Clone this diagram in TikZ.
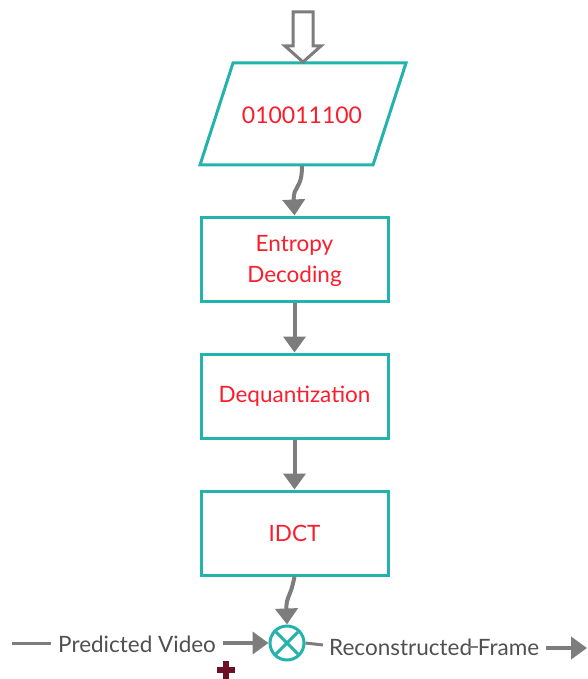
\documentclass[tikz,border=0pt]{standalone}
\usepackage{fontspec}
\setmainfont{Lato}
\usetikzlibrary{shapes.geometric,arrows.meta,calc}
\definecolor{teal}{RGB}{36,178,172}
\definecolor{txtred}{RGB}{250,30,45}
\definecolor{arrgray}{RGB}{125,125,125}
\definecolor{txtgray}{RGB}{80,80,80}
\definecolor{plusred}{RGB}{110,15,40}
\tikzset{
  x=1pt, y=-1pt,
  procbox/.style={draw=teal, line width=3pt, minimum width=187pt, minimum height=84pt,
    align=center, text=txtred, font=\fontsize{22.5}{31}\selectfont, inner sep=0pt},
  flow/.style={draw=arrgray, line width=4pt, -{Triangle[length=16pt,width=22pt]}},
  plainline/.style={draw=arrgray, line width=3pt},
  label/.style={text=txtgray, font=\fontsize{22.5}{27}\selectfont, inner sep=0pt, anchor=west}
}
\begin{document}
\begin{tikzpicture}
\useasboundingbox (0,0) rectangle (587,679);

% input data, drawn as a parallelogram
\coordinate (pa) at (233,63);
\coordinate (pb) at (406,63);
\coordinate (pc) at (373,165);
\coordinate (pd) at (200,165);
\draw[teal, line width=3pt, line join=miter] (pa) -- (pb) -- (pc) -- (pd) -- cycle;
\node[text=txtred, font=\fontsize{23}{27}\selectfont] (bits) at (302,115) {010011100};
\coordinate (pbot) at (302,166);

% hollow input arrow
\draw[arrgray, line width=3pt, line join=miter, fill=white]
  (293,12) -- (313,12) -- (313,46) -- (321,46) -- (303,62) -- (285,46) -- (293,46) -- cycle;

% processing stages
\node[procbox] (ent) at (294.5,259) {};
\node[text=txtred, font=\fontsize{22.5}{31}\selectfont, align=center, inner sep=0pt]
  (enttext) at (294.5,261) {Entropy\\Decoding};
\node[procbox] (deq) at (294.5,396) {Dequantization};
\node[procbox] (idct) at (294.5,533) {IDCT};

% summing junction
\node[circle, draw=teal, line width=3pt, minimum size=34pt, inner sep=0pt] (sum) at (287,643) {};
\draw[teal, line width=3pt] ($(sum.center)+(-11,-11)$) -- ($(sum.center)+(11,11)$);
\draw[teal, line width=3pt] ($(sum.center)+(-11,11)$) -- ($(sum.center)+(11,-11)$);

% connectors between stages
\draw[flow] (pbot) .. controls (302,190) and (293,185) .. (ent.north);
\draw[flow] (ent.south) -- (deq.north);
\draw[flow] (deq.south) -- (idct.north);
\draw[flow] (idct.south) .. controls (290,600) and (286,595) .. (sum.north);

% predicted input
\coordinate (lstart) at (12,643);
\coordinate (lend) at (51,643);
\draw[plainline] (lstart) -- (lend);
\node[label] (pred) at (58,644) {Predicted Video};
\coordinate (pstart) at (223,643);
\draw[flow] (pstart) -- (sum.west);

% reconstructed output
\coordinate (rend) at (323,645);
\draw[plainline] (sum.east) -- (rend);
\node[label] (recon) at (329,647) {Reconstructed Frame};
\coordinate (tick1) at (469,647);
\coordinate (tick2) at (478,647);
\draw[arrgray, line width=2pt] (tick1) -- (tick2);
\coordinate (ostart) at (546,648);
\coordinate (oend) at (587,648);
\draw[flow] (ostart) -- (oend);

% plus sign marker
\node[fill=plusred, minimum width=18pt, minimum height=6pt, inner sep=0pt] (ph) at (226,670) {};
\node[fill=plusred, minimum width=6pt, minimum height=18pt, inner sep=0pt] (pv) at (226,670) {};
\end{tikzpicture}
\end{document}
